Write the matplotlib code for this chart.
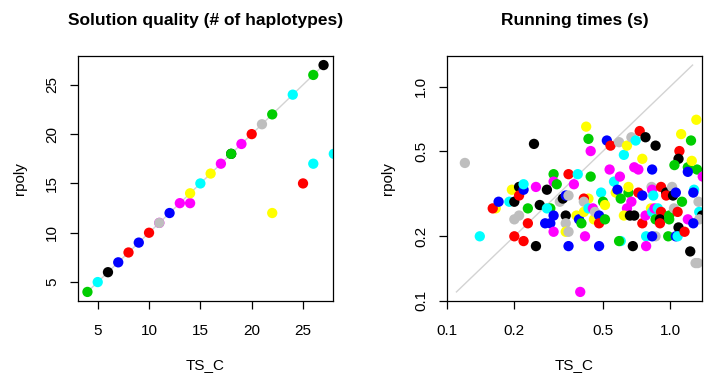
import numpy as np
import matplotlib
matplotlib.use("Agg")
import matplotlib.pyplot as plt

plt.rcParams['font.family'] = ['Liberation Sans', 'DejaVu Sans']

# R default palette
palette = {"k": "#000000", "r": "#FF0000", "g": "#00CD00", "b": "#0000FF",
           "c": "#00FFFF", "m": "#FF00FF", "y": "#FFFF00", "a": "#BEBEBE"}

# Solution quality (number of haplotypes)
qual_ts = [4, 5, 6, 7, 8, 9, 10, 11, 11, 12, 13, 14, 14, 15, 16, 17, 18, 18,
           19, 20, 21, 22, 24, 26, 27, 22, 25, 26, 28]
qual_rpoly = [4, 5, 6, 7, 8, 9, 10, 11, 11, 12, 13, 13, 14, 15, 16, 17, 18, 18,
              19, 20, 21, 22, 24, 26, 27, 12, 15, 17, 18]
qual_col = list("gckbrbrmabmmycymkgmragcgkyrcc")
qual_range = [4, 27]

# Running times (s)
run_ts = [0.12, 0.14, 0.165, 0.16, 0.17, 0.19, 0.195, 0.20, 0.20, 0.21, 0.21, 0.21,
          0.22, 0.22, 0.20, 0.22, 0.23, 0.23, 0.245, 0.25, 0.25, 0.26, 0.28, 0.29,
          0.28, 0.275, 0.29, 0.30, 0.30, 0.31, 0.30, 0.30, 0.32, 0.33, 0.34, 0.35,
          0.34, 0.34, 0.34, 0.35, 0.35, 0.35, 0.37, 0.38, 0.385, 0.39, 0.40, 0.415,
          0.43, 0.41, 0.41, 0.41, 0.43, 0.42, 0.43, 0.44, 0.44, 0.45, 0.455, 0.46,
          0.48, 0.48, 0.48, 0.49, 0.50, 0.51, 0.51, 0.395, 0.52, 0.54, 0.535, 0.56,
          0.57, 0.58, 0.595, 0.59, 0.60, 0.60, 0.59, 0.62, 0.64, 0.65, 0.65, 0.67,
          0.64, 0.62, 0.66, 0.69, 0.68, 0.67, 0.70, 0.69, 0.72, 0.72, 0.75, 0.75,
          0.73, 0.775, 0.75, 0.775, 0.78, 0.78, 0.83, 0.825, 0.83, 0.84, 0.82, 0.83,
          0.85, 0.86, 0.88, 0.86, 0.83, 0.86, 0.91, 0.90, 0.90, 0.91, 0.96, 0.96,
          1.02, 1.03, 1.06, 0.99, 0.99, 0.98, 1.04, 1.08, 1.13, 1.09, 1.06, 1.08,
          1.16, 1.23, 1.30, 1.33, 1.31, 1.12, 1.24, 1.10, 1.09, 1.045, 1.20, 1.32,
          1.20, 1.25, 1.28, 1.27, 1.34, 1.35, 1.39, 1.35, 1.20, 1.27, 1.40]
run_rpoly = [0.44, 0.20, 0.27, 0.27, 0.29, 0.29, 0.33, 0.29, 0.24, 0.25, 0.34, 0.31,
             0.33, 0.35, 0.20, 0.19, 0.27, 0.23, 0.54, 0.18, 0.34, 0.28, 0.33, 0.27,
             0.27, 0.23, 0.23, 0.39, 0.36, 0.35, 0.25, 0.21, 0.29, 0.30, 0.31, 0.31,
             0.25, 0.23, 0.21, 0.21, 0.18, 0.39, 0.35, 0.25, 0.39, 0.24, 0.23, 0.20,
             0.30, 0.30, 0.29, 0.26, 0.27, 0.65, 0.57, 0.50, 0.38, 0.27, 0.24, 0.26,
             0.25, 0.23, 0.18, 0.32, 0.29, 0.28, 0.24, 0.11, 0.56, 0.53, 0.41, 0.36,
             0.32, 0.33, 0.38, 0.55, 0.30, 0.19, 0.19, 0.48, 0.53, 0.32, 0.34, 0.29,
             0.27, 0.25, 0.25, 0.25, 0.18, 0.58, 0.56, 0.42, 0.41, 0.32, 0.31, 0.46,
             0.62, 0.58, 0.23, 0.25, 0.20, 0.18, 0.41, 0.34, 0.33, 0.31, 0.27, 0.26,
             0.27, 0.24, 0.27, 0.20, 0.20, 0.53, 0.26, 0.24, 0.23, 0.34, 0.32, 0.31,
             0.34, 0.31, 0.32, 0.25, 0.24, 0.20, 0.27, 0.26, 0.29, 0.22, 0.20, 0.20,
             0.21, 0.17, 0.15, 0.15, 0.70, 0.60, 0.56, 0.50, 0.46, 0.43, 0.42, 0.41,
             0.40, 0.45, 0.33, 0.32, 0.29, 0.26, 0.25, 0.24, 0.24, 0.23, 0.38]
run_col = list("acyrbcykaakr" "bcrrgrkkmkkg" "cbbgmgbmakba" "kayabrmycbgm"
               "yraycygmgmya" "brbcgygmbrmc" "ybmagcgcygym" "mykkkacmmrby"
               "rkrmcmbamcyc" "mgcabkrkrrkr" "akbgggargkbc" "rkaayygrkggg"
               "bycbackambm")
run_range = [0.11, 1.26]


def r_limits(lo, hi, log=False):
    # R-style 4% axis expansion
    if log:
        lo, hi = np.log10(lo), np.log10(hi)
    d = (hi - lo) * 0.04
    lo, hi = lo - d, hi + d
    if log:
        return 10 ** lo, 10 ** hi
    return lo, hi


W, H = 704, 376
fig = plt.figure(figsize=(W / 100, H / 100), dpi=100)

ax1 = fig.add_axes([78 / W, (H - 301) / H, 255 / W, 245 / H])
ax2 = fig.add_axes([447 / W, (H - 301) / H, 255 / W, 245 / H])

msize = 55
title_kw = dict(fontsize=12.5, fontweight="bold", pad=22)

# Left panel: solution quality
ax1.plot(qual_range, qual_range, color="#D3D3D3", lw=1, zorder=1)
ax1.scatter(qual_ts, qual_rpoly, s=msize, c=[palette[c] for c in qual_col],
            linewidths=0, zorder=2)
lim = r_limits(*qual_range)
ax1.set_xlim(lim)
ax1.set_ylim(lim)
ax1.set_xticks([5, 10, 15, 20, 25])
ax1.set_yticks([5, 10, 15, 20, 25])
ax1.set_title("Solution quality (# of haplotypes)", **title_kw)

# Right panel: running times
ax2.set_xscale("log")
ax2.set_yscale("log")
ax2.plot(run_range, run_range, color="#D3D3D3", lw=1, zorder=1)
ax2.scatter(run_ts, run_rpoly, s=msize, c=[palette[c] for c in run_col],
            linewidths=0, zorder=2)
lim2 = r_limits(*run_range, log=True)
ax2.set_xlim(lim2)
ax2.set_ylim(lim2)
ticks = [0.1, 0.2, 0.5, 1.0]
labels = ["0.1", "0.2", "0.5", "1.0"]
ax2.set_xticks(ticks)
ax2.set_xticklabels(labels)
ax2.set_yticks(ticks)
ax2.set_yticklabels(labels)
ax2.minorticks_off()
ax2.set_title("Running times (s)", **title_kw)

for ax in (ax1, ax2):
    for sp in ax.spines.values():
        sp.set_linewidth(0.9)
    ax.tick_params(direction="out", length=5.5, width=0.9, labelsize=11)
    ax.tick_params(axis="x", pad=11)
    ax.tick_params(axis="y", pad=8)
    for lab in ax.get_yticklabels():
        lab.set_rotation(90)
        lab.set_va("center")
    ax.set_xlabel("TS_C", fontsize=11, labelpad=14.5)
    ax.set_ylabel("rpoly", fontsize=11, labelpad=13.5)

fig.savefig("out.png", dpi=100)
